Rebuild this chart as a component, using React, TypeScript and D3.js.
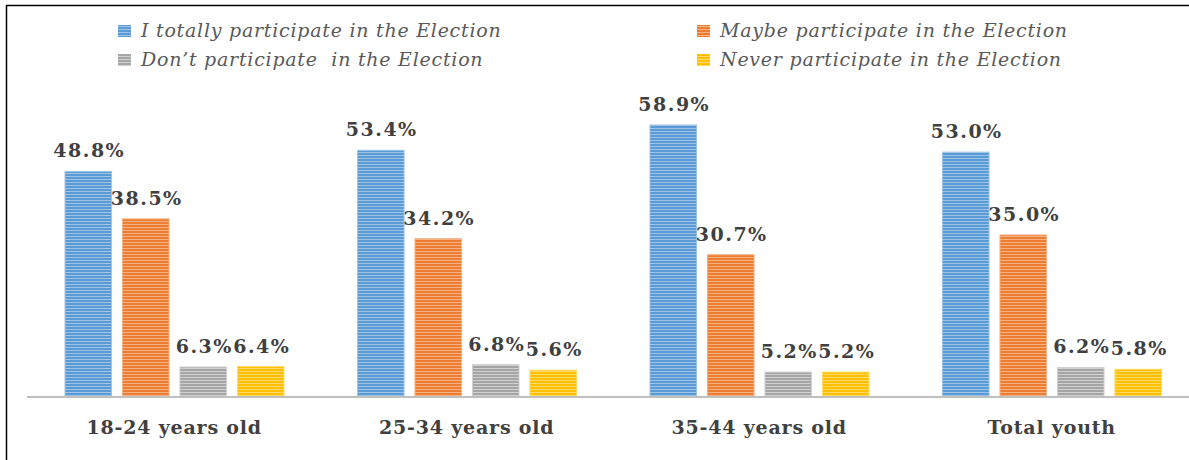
import { useRef, useEffect } from 'react';
import * as d3 from 'd3';

const categories = ['18-24 years old', '25-34 years old', '35-44 years old', 'Total youth'];
const seriesNames = [
  'I totally participate in the Election',
  'Maybe participate in the Election',
  'Don\u2019t participate  in the Election',
  'Never participate in the Election',
];
const totally = [48.8, 53.4, 58.9, 53.0];
const maybe = [38.5, 34.2, 30.7, 35.0];
const dont = [6.3, 6.8, 5.2, 6.2];
const never = [6.4, 5.6, 5.2, 5.8];
const colors = ['#5b9bd5', '#ed7d31', '#a5a5a5', '#ffc000'];
const stripes = ['#9dc3e6', '#f4b183', '#d0d0d0', '#ffd966'];

function App() {
  const ref = useRef<SVGSVGElement>(null);

  useEffect(() => {
    const svg = d3.select(ref.current);
    svg.selectAll('*').remove();

    const series = [totally, maybe, dont, never];
    const baseline = 396;

    const x0 = d3.scaleBand().domain(categories).range([28, 1198]).paddingInner(0).paddingOuter(0);
    const x1 = d3.scaleBand().domain(d3.range(4).map(String)).range([37, 256]).paddingInner(0.19);
    const y = d3.scaleLinear().domain([0, 58.9]).range([baseline, 125]);

    const defs = svg.append('defs');
    colors.forEach((c, i) => {
      const p = defs.append('pattern')
        .attr('id', `stripe${i}`)
        .attr('patternUnits', 'userSpaceOnUse')
        .attr('width', 6).attr('height', 3);
      p.append('rect').attr('width', 6).attr('height', 3).attr('fill', c);
      p.append('rect').attr('y', 2).attr('width', 6).attr('height', 1).attr('fill', stripes[i]);
    });

    // frame lines
    svg.append('line').attr('x1', 6.5).attr('x2', 6.5).attr('y1', 5).attr('y2', 460)
      .attr('stroke', '#000').attr('stroke-width', 1.5);
    svg.append('line').attr('x1', 6).attr('x2', 1189).attr('y1', 5.5).attr('y2', 5.5)
      .attr('stroke', '#000').attr('stroke-width', 1.5);

    const g = svg.append('g');
    categories.forEach((cat, ci) => {
      const gx = x0(cat)!;
      series.forEach((vals, si) => {
        const bx = gx + x1(String(si))!;
        const v = vals[ci];
        g.append('rect')
          .attr('x', bx).attr('y', y(v))
          .attr('width', x1.bandwidth()).attr('height', baseline - y(v))
          .attr('fill', `url(#stripe${si})`)
          .attr('stroke', stripes[si]).attr('stroke-width', 1);
        g.append('text')
          .attr('x', bx + x1.bandwidth() / 2 + 1).attr('y', y(v) - 14)
          .attr('text-anchor', 'middle')
          .attr('font-family', 'DejaVu Serif').attr('font-weight', 'bold')
          .attr('font-size', 19).attr('letter-spacing', 1.5).attr('fill', '#404040')
          .text(v.toFixed(1) + '%');
      });
      g.append('text')
        .attr('x', gx + x0.bandwidth() / 2).attr('y', 434)
        .attr('text-anchor', 'middle')
        .attr('font-family', 'DejaVu Serif').attr('font-weight', 'bold')
        .attr('font-size', 19).attr('letter-spacing', 0.8).attr('fill', '#404040')
        .text(cat);
    });

    svg.append('line').attr('x1', 27).attr('x2', 1189).attr('y1', baseline + 1).attr('y2', baseline + 1)
      .attr('stroke', '#bfbfbf').attr('stroke-width', 2);

    // legend
    const legendPos = [[118, 31], [697, 31], [118, 60], [697, 60]];
    seriesNames.forEach((name, i) => {
      const [lx, ly] = legendPos[i];
      svg.append('rect').attr('x', lx).attr('y', ly - 6).attr('width', 13).attr('height', 12)
        .attr('fill', `url(#stripe${i})`);
      svg.append('text').attr('x', lx + 23).attr('y', ly + 6)
        .attr('font-family', 'DejaVu Serif').attr('font-style', 'italic')
        .attr('font-size', 19).attr('letter-spacing', 0.75).attr('fill', '#595959')
        .style('white-space', 'pre')
        .text(name);
    });
  }, []);

  return (
    <svg ref={ref} width={1189} height={460}
      style={{ position: 'absolute', left: 0, top: 0, background: '#fff' }} />
  );
}

export default App;
